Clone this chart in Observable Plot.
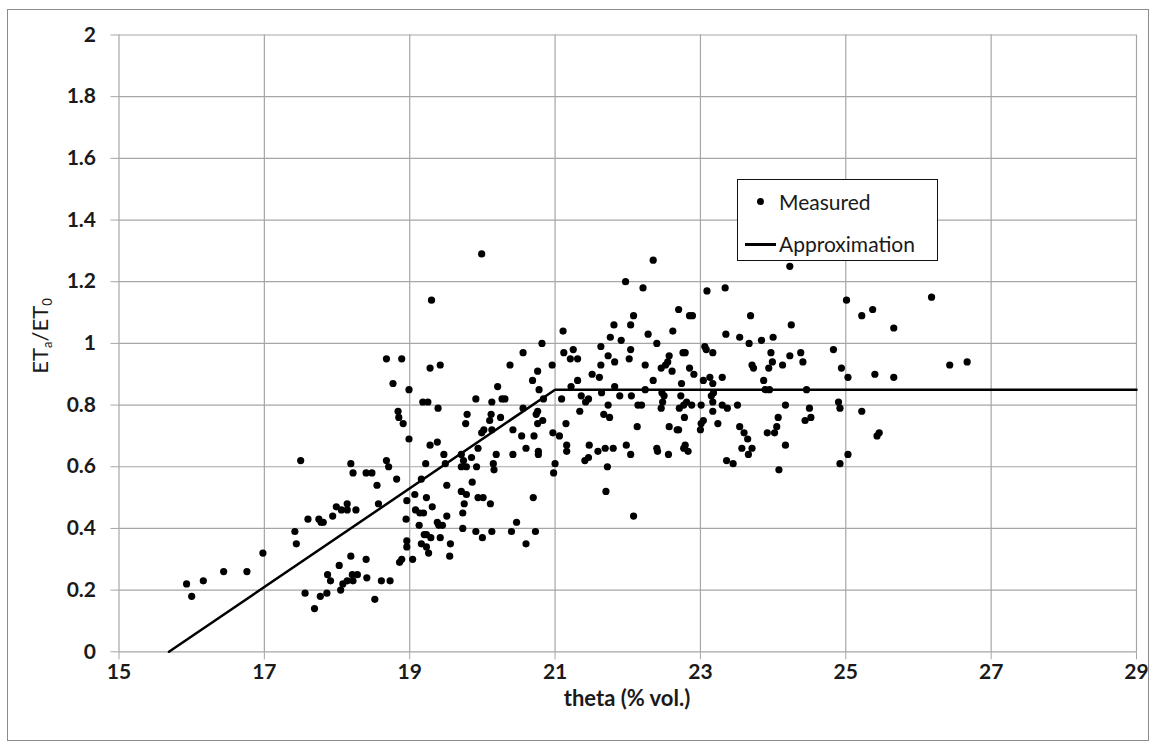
<!DOCTYPE html>
<html>
<head>
<meta charset="utf-8">
<script src="https://cdn.jsdelivr.net/npm/d3@7"></script>
<script src="https://cdn.jsdelivr.net/npm/@observablehq/plot@0.6"></script>
<style>
  body { margin: 0; background: #fff; font-family: Lato, "Open Sans", sans-serif; color: #1a1a1a; }
  #wrap { position: relative; width: 1156px; height: 749px; overflow: hidden; }
  #frame { position: absolute; left: 7px; top: 9px; width: 1142px; height: 732px; border: 1px solid #8c8c8c; box-sizing: border-box; pointer-events: none; }
  #ytitle { position: absolute; left: 40px; top: 336px; transform: translate(-50%, -50%) rotate(-90deg); font-size: 22px; white-space: nowrap; }
  #ytitle sub { font-size: 13px; vertical-align: -4px; }
  #xtitle { position: absolute; left: 627px; top: 697px; transform: translate(-50%, -50%); font-size: 22px; font-weight: bold; white-space: nowrap; }
  #legend { position: absolute; left: 737px; top: 179px; width: 201px; height: 82px; border: 1px solid #111; background: #fff; box-sizing: border-box; font-size: 21px; }
  #legend .row { position: absolute; left: 0; width: 100%; height: 30px; }
  #legend .dot { position: absolute; left: 19px; top: 11px; width: 7px; height: 7px; border-radius: 50%; background: #000; }
  #legend .ln { position: absolute; left: 7px; top: 14px; width: 31px; height: 2.5px; background: #000; }
  #legend .lbl { position: absolute; left: 41px; top: 0; line-height: 30px; }
</style>
</head>
<body>
<div id="wrap">
  <div id="chart"></div>
  <div id="frame"></div>
  <div id="ytitle">ET<sub>a</sub>/ET<sub>0</sub></div>
  <div id="xtitle">theta (% vol.)</div>
  <div id="legend">
    <div class="row" style="top:7px"><div class="dot"></div><div class="lbl">Measured</div></div>
    <div class="row" style="top:49px"><div class="ln"></div><div class="lbl">Approximation</div></div>
  </div>
</div>
<script>
// Measured points: soil water content theta (% vol.) and ETa/ET0
const measuredTheta = [
  19.99,19.30,18.68,18.89,19.28,19.42,18.77,18.99,19.18,19.25,19.39,18.84,18.85,18.91,20.38,20.56,20.82,20.96,20.76,20.69,
  20.21,20.78,20.27,20.31,19.91,20.13,19.79,19.77,20.12,20.25,20.10,20.56,20.74,20.76,20.84,20.76,20.83,21.11,21.12,21.25,
  21.21,21.31,21.31,21.22,21.36,21.09,21.42,21.46,21.34,21.15,
  22.35,24.23,21.97,22.21,23.09,23.34,22.70,22.85,22.89,23.69,22.08,22.04,21.81,24.25,21.76,21.91,22.28,22.62,23.35,23.54,
  23.84,24.00,23.67,22.40,21.63,22.04,21.73,21.82,22.02,21.63,21.51,21.61,22.24,22.57,22.55,22.46,22.52,22.61,22.76,22.79,
  22.85,22.91,23.06,23.08,23.17,23.97,23.99,23.94,23.71,23.73,24.13,24.23,22.35,23.04,23.13,23.17,23.30,23.87,22.74,21.82,
  21.64,21.89,22.05,22.24,22.47,22.50,22.73,23.15,23.18,23.89,23.95,21.73,22.14,22.19,22.46,22.48,22.71,22.77,22.81,22.88,
  23.01,23.17,23.30,23.37,23.51,24.17,21.67,21.75,22.78,23.17,23.04,23.01,23.24,23.54,24.07,22.13,22.57,22.70,23.00,24.05,
  26.18,25.01,25.22,25.37,25.66,24.83,24.38,24.41,24.94,25.03,25.40,25.66,26.43,26.67,24.46,24.90,24.92,24.50,25.22,24.44,24.52,
  17.50,18.19,18.22,18.14,17.99,18.06,18.14,18.26,17.94,17.75,17.78,17.81,17.60,17.42,17.44,16.98,16.44,16.76,16.16,15.93,
  16.00,18.19,18.03,17.87,17.91,18.21,18.28,18.22,18.14,18.08,18.05,17.56,17.77,17.86,17.69,
  18.99,19.28,19.38,20.02,19.99,20.13,20.42,20.54,20.71,20.97,21.06,21.16,21.16,20.60,20.77,20.77,20.42,20.19,19.94,19.85,
  19.71,19.47,18.68,18.71,18.40,18.48,18.55,18.82,19.22,19.49,19.74,19.71,19.78,19.92,20.15,20.16,21.00,20.98,21.41,21.46,
  21.47,19.16,19.51,19.86,18.96,19.07,19.23,18.57,19.08,19.14,19.19,19.31,19.71,19.78,19.94,20.01,20.11,19.75,20.70,18.95,
  19.13,19.38,19.40,19.45,19.51,19.73,19.73,19.91,20.13,20.40,20.47,20.73,19.20,19.23,19.29,19.42,18.96,18.96,19.16,19.23,
  19.26,19.56,19.55,20.00,20.60,19.04,18.89,18.86,18.40,18.41,18.61,18.73,18.52,
  22.68,23.60,23.65,23.92,24.02,21.59,21.69,21.80,21.98,22.04,22.40,22.41,22.56,22.79,22.77,22.83,21.72,21.70,22.08,23.36,
  23.45,23.57,23.71,23.66,24.17,24.08,
  25.46,25.43,25.03,24.92
];
const measuredRatio = [
  1.29,1.14,0.95,0.95,0.92,0.93,0.87,0.85,0.81,0.81,0.79,0.78,0.76,0.74,0.93,0.97,1.00,0.93,0.91,0.88,
  0.86,0.85,0.82,0.82,0.82,0.81,0.77,0.74,0.77,0.76,0.75,0.79,0.77,0.78,0.82,0.74,0.75,1.04,0.97,0.98,
  0.95,0.95,0.88,0.86,0.83,0.82,0.81,0.82,0.78,0.74,
  1.27,1.25,1.20,1.18,1.17,1.18,1.11,1.09,1.09,1.09,1.09,1.06,1.06,1.06,1.02,1.01,1.03,1.04,1.03,1.02,
  1.01,1.02,1.00,1.00,0.99,0.98,0.96,0.94,0.95,0.93,0.90,0.89,0.93,0.96,0.94,0.92,0.93,0.91,0.97,0.97,
  0.92,0.90,0.99,0.98,0.97,0.97,0.94,0.92,0.93,0.92,0.93,0.96,0.88,0.88,0.89,0.87,0.89,0.88,0.87,0.86,
  0.84,0.83,0.83,0.85,0.84,0.83,0.83,0.83,0.84,0.85,0.85,0.80,0.80,0.80,0.79,0.81,0.79,0.80,0.81,0.80,
  0.80,0.81,0.80,0.79,0.80,0.80,0.77,0.76,0.76,0.78,0.75,0.74,0.74,0.73,0.76,0.73,0.73,0.72,0.72,0.73,
  1.15,1.14,1.09,1.11,1.05,0.98,0.97,0.94,0.92,0.89,0.90,0.89,0.93,0.94,0.85,0.81,0.79,0.79,0.78,0.75,0.76,
  0.62,0.61,0.58,0.48,0.47,0.46,0.46,0.46,0.44,0.43,0.42,0.42,0.43,0.39,0.35,0.32,0.26,0.26,0.23,0.22,
  0.18,0.31,0.28,0.25,0.23,0.25,0.25,0.23,0.23,0.22,0.20,0.19,0.18,0.19,0.14,
  0.69,0.67,0.68,0.72,0.71,0.72,0.72,0.70,0.70,0.71,0.70,0.67,0.65,0.66,0.65,0.64,0.64,0.64,0.66,0.63,
  0.64,0.64,0.62,0.60,0.58,0.58,0.54,0.56,0.61,0.61,0.62,0.60,0.60,0.60,0.61,0.59,0.61,0.58,0.62,0.63,
  0.67,0.56,0.54,0.55,0.49,0.51,0.50,0.48,0.46,0.45,0.45,0.47,0.52,0.51,0.50,0.50,0.48,0.48,0.50,0.43,
  0.41,0.42,0.41,0.41,0.44,0.45,0.40,0.39,0.39,0.39,0.42,0.39,0.38,0.38,0.37,0.37,0.36,0.34,0.35,0.34,
  0.32,0.35,0.31,0.37,0.35,0.30,0.30,0.29,0.30,0.24,0.23,0.23,0.17,
  0.72,0.71,0.69,0.71,0.71,0.65,0.66,0.66,0.67,0.64,0.66,0.65,0.64,0.67,0.66,0.65,0.60,0.52,0.44,0.62,
  0.61,0.66,0.66,0.64,0.67,0.59,
  0.71,0.70,0.64,0.61
];
// Approximation (piecewise linear)
const approxTheta = [15.6875, 21, 29];
const approxRatio = [0, 0.85, 0.85];
// Axis ticks
const xTicks = [15, 17, 19, 21, 23, 25, 27, 29];
const yTicks = [0, 0.2, 0.4, 0.6, 0.8, 1, 1.2, 1.4, 1.6, 1.8, 2];

const measured = measuredTheta.map((t, i) => ({theta: t, ratio: measuredRatio[i]}));
const approx = approxTheta.map((t, i) => ({theta: t, ratio: approxRatio[i]}));

const gridColor = "#a6a6a6";
const chart = Plot.plot({
  width: 1156,
  height: 749,
  marginLeft: 118.5,
  marginRight: 20,
  marginTop: 34.5,
  marginBottom: 97.7,
  style: {fontFamily: "Lato, 'Open Sans', sans-serif", fontSize: "21px", fontWeight: "bold", color: "#1a1a1a", background: "transparent"},
  x: {domain: [15, 29]},
  y: {domain: [0, 2]},
  marks: [
    Plot.gridX(xTicks, {stroke: gridColor, strokeOpacity: 1, strokeWidth: 1.2}),
    Plot.gridY(yTicks, {stroke: gridColor, strokeOpacity: 1, strokeWidth: 1.2}),
    Plot.axisX(xTicks, {tickSize: 8, tickPadding: 4, stroke: gridColor, label: null, tickFormat: d => String(d)}),
    Plot.axisY(yTicks, {tickSize: 8, tickPadding: 15, stroke: gridColor, label: null, tickFormat: d => String(+d.toFixed(1))}),
    Plot.line(approx, {x: "theta", y: "ratio", stroke: "#000", strokeWidth: 2.5}),
    Plot.dot(measured, {x: "theta", y: "ratio", r: 3.6, fill: "#000", stroke: null})
  ]
});
document.getElementById("chart").appendChild(chart);
</script>
</body>
</html>
